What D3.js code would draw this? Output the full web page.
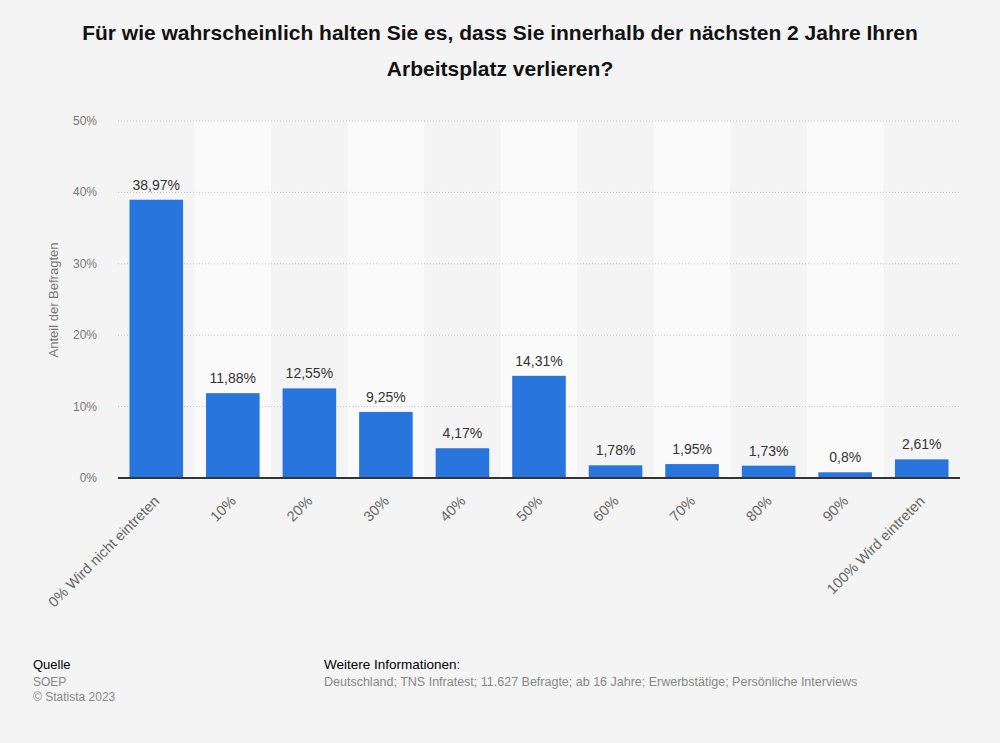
<!DOCTYPE html>
<html><head><meta charset="utf-8">
<script src="https://cdn.jsdelivr.net/npm/d3@7"></script>
<style>body{margin:0;background:#f4f4f4;}svg{display:block;font-family:"Liberation Sans",Arial,sans-serif;}</style>
</head><body>
<script>
const categories = ["0% Wird nicht eintreten","10%","20%","30%","40%","50%","60%","70%","80%","90%","100% Wird eintreten"];
const values = [38.97,11.88,12.55,9.25,4.17,14.31,1.78,1.95,1.73,0.8,2.61];
const valueLabels = ["38,97%","11,88%","12,55%","9,25%","4,17%","14,31%","1,78%","1,95%","1,73%","0,8%","2,61%"];
const yTicks = [0,10,20,30,40,50];

const W=1000,H=743;
const svg=d3.select("body").append("svg").attr("width",W).attr("height",H);
svg.append("rect").attr("width",W).attr("height",H).attr("fill","#f4f4f4");

const m={l:118,r:960,t:121,b:478};
const x=d3.scaleBand().domain(categories).range([m.l,m.r]).paddingInner(0.3).paddingOuter(0.15);
const xb=d3.scaleBand().domain(categories).range([m.l,m.r]);
const y=d3.scaleLinear().domain([0,50]).range([m.b,m.t]);

// alternating bands
svg.append("g").selectAll("rect").data(categories.filter((d,i)=>i%2===1)).join("rect")
  .attr("x",d=>xb(d)).attr("width",xb.bandwidth()).attr("y",m.t).attr("height",m.b-m.t).attr("fill","#fafafa");

// grid
svg.append("g").selectAll("line").data(yTicks.filter(d=>d>0)).join("line")
  .attr("x1",m.l).attr("x2",m.r).attr("y1",d=>y(d)).attr("y2",d=>y(d))
  .attr("stroke","#c8c8c8").attr("stroke-dasharray","1,2").attr("stroke-width",1);

// y tick labels
svg.append("g").selectAll("text").data(yTicks).join("text")
  .attr("x",97).attr("y",d=>y(d)+4).attr("text-anchor","end")
  .attr("fill","#777").attr("font-size",12).text(d=>d+"%");

svg.append("text").attr("transform",`translate(58,300) rotate(-90)`).attr("text-anchor","middle")
  .attr("fill","#777").attr("font-size",13).text("Anteil der Befragten");

// bars
svg.append("g").selectAll("rect").data(values).join("rect")
  .attr("x",(d,i)=>x(categories[i])).attr("width",x.bandwidth())
  .attr("y",d=>y(d)).attr("height",d=>y(0)-y(d)).attr("fill","#2876dd");

// value labels
svg.append("g").selectAll("text").data(values).join("text")
  .attr("x",(d,i)=>x(categories[i])+x.bandwidth()/2).attr("y",d=>y(d)-10)
  .attr("text-anchor","middle").attr("fill","#333").attr("font-size",14).text((d,i)=>valueLabels[i]);

// baseline
svg.append("line").attr("x1",m.l).attr("x2",m.r).attr("y1",m.b).attr("y2",m.b).attr("stroke","#333").attr("stroke-width",2);

// x labels
svg.append("g").selectAll("text").data(categories).join("text")
  .attr("transform",d=>`translate(${xb(d)+xb.bandwidth()/2+4},${m.b+24}) rotate(-45)`)
  .attr("text-anchor","end").attr("fill","#666").attr("font-size",14.5).text(d=>d);

// title
const title=["Für wie wahrscheinlich halten Sie es, dass Sie innerhalb der nächsten 2 Jahre Ihren","Arbeitsplatz verlieren?"];
svg.append("g").selectAll("text").data(title).join("text")
  .attr("x",500).attr("y",(d,i)=>40+i*36).attr("text-anchor","middle")
  .attr("font-weight","bold").attr("font-size",21).attr("fill","#111").text(d=>d);

// footer
const foot=svg.append("g").attr("font-size",12);
foot.append("text").attr("x",33).attr("y",669).attr("fill","#000").attr("font-size",13).text("Quelle");
foot.append("text").attr("x",33).attr("y",686).attr("fill","#888").text("SOEP");
foot.append("text").attr("x",33).attr("y",701).attr("fill","#888").text("© Statista 2023");
foot.append("text").attr("x",324).attr("y",669).attr("fill","#000").attr("font-size",13.5).text("Weitere Informationen:");
foot.append("text").attr("x",324).attr("y",686).attr("fill","#888").attr("font-size",12.5).text("Deutschland; TNS Infratest; 11.627 Befragte; ab 16 Jahre; Erwerbstätige; Persönliche Interviews");
</script>
</body></html>
